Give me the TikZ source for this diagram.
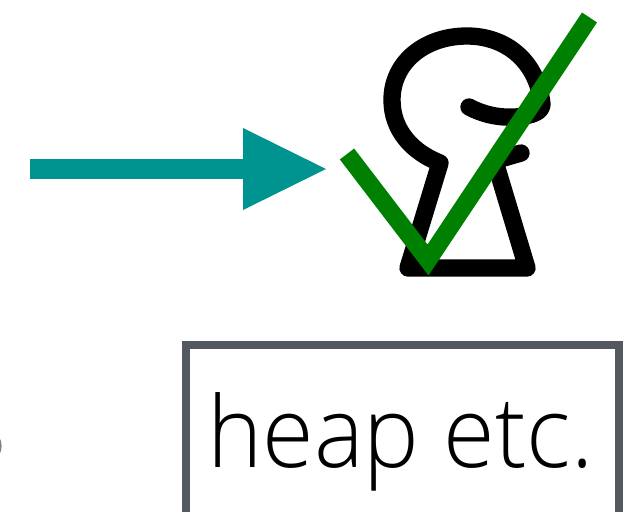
\documentclass[tikz,border=0pt]{standalone}
\usepackage{fontspec}
\setmainfont[FakeStretch=0.95]{Open Sans Light}
\definecolor{teal1}{HTML}{009490}
\definecolor{grn}{HTML}{008000}
\definecolor{slate1}{HTML}{545860}
\tikzset{
  lockline/.style={draw=black,line width=13pt,line cap=round,line join=round},
  checkline/.style={draw=grn,line width=13.5pt,line join=miter},
  framebox/.style={draw=slate1,line width=6pt},
}
\begin{document}
\begin{tikzpicture}[x=0.75pt,y=-0.75pt]
\useasboundingbox (0,0) rectangle (642,511);
\clip (0,0) rectangle (642,511);
% arrow
\coordinate (arrowstart) at (30,169);
\coordinate (arrowneck) at (243,169);
\coordinate (arrowtip) at (326,169);
\draw[teal1,line width=15pt] (arrowstart) -- (arrowneck);
\fill[teal1] (243,128) -- (arrowtip) -- (243,210) -- cycle;
% lock icon
\draw[lockline] (469,107) .. controls (482,114) and (498,118) .. (515,117)
  .. controls (532,116) and (542,112) .. (542,104)
  .. controls (537,60) and (505,36) .. (467,36)
  .. controls (425,36) and (392,62) .. (392,100)
  .. controls (392,130) and (412,152) .. (440,163)
  -- (408,268) -- (527,268) -- (496,165);
\draw[lockline] (497,160) -- (521,153);
% check
\draw[checkline] (347,154) -- (428,260) -- (589.5,17.5);
% box
\draw[framebox] (186,530) -- (186,345) -- (619,345) -- (619,530);
\node[anchor=base west,inner sep=0pt,font=\fontsize{74pt}{74pt}\selectfont] (label) at (207,467.5) {heap etc.};
% cut-off glyph edge at the left margin
\draw[gray,line width=1.5pt] (-2,437) .. controls (1.5,442) and (1.5,450) .. (-2,455);
\end{tikzpicture}
\end{document}
